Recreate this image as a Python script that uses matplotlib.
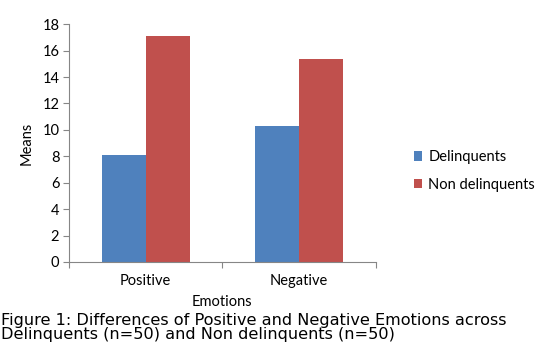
import matplotlib
matplotlib.use("Agg")
import matplotlib.pyplot as plt
import numpy as np

categories = ["Positive", "Negative"]
delinquents = [8.1, 10.3]
non_delinquents = [17.1, 15.4]
series_names = ["Delinquents", "Non delinquents"]
yticks = [0, 2, 4, 6, 8, 10, 12, 14, 16, 18]

blue = "#4F81BD"
red = "#C0504D"
axis_color = "#868686"

plt.rcParams["font.family"] = ["Lato", "DejaVu Sans"]

fig = plt.figure(figsize=(5.39, 3.45), dpi=100)
ax = fig.add_axes([0.128, 0.2406, 0.569, 0.6894])

x = np.arange(len(categories))
w = 0.286
ax.bar(x - w / 2, delinquents, w, color=blue, label=series_names[0])
ax.bar(x + w / 2, non_delinquents, w, color=red, label=series_names[1])

ax.set_xlim(-0.5, len(categories) - 0.5)
ax.set_ylim(0, 18)
ax.set_yticks(yticks)
ax.set_yticklabels([str(v) for v in yticks], fontsize=10.5)
ax.set_xticks(np.arange(len(categories) + 1) - 0.5)
ax.set_xticklabels([])
for xi, name in zip(x, categories):
    ax.text(xi, -1.45, name, ha="center", va="center", fontsize=10.5)

for s in ["top", "right"]:
    ax.spines[s].set_visible(False)
for s in ["left", "bottom"]:
    ax.spines[s].set_color(axis_color)
ax.tick_params(axis="both", color=axis_color, length=4, direction="out")
ax.tick_params(axis="y", pad=3)

ax.set_ylabel("Means", fontsize=10.5, labelpad=6)

ax.legend(loc="upper left", bbox_to_anchor=(1.105, 0.495), frameon=False,
          fontsize=10.5, handlelength=0.6, handleheight=0.6, handletextpad=0.4,
          labelspacing=0.95, borderaxespad=0)

fig.text(0.412, 0.124, "Emotions", ha="center", va="center", fontsize=10.5)
fig.text(0.002, 0.052,
         "Figure 1: Differences of Positive and Negative Emotions across\n"
         "Delinquents (n=50) and Non delinquents (n=50)",
         ha="left", va="center", fontsize=11.6, family="DejaVu Sans",
         linespacing=0.92)

fig.savefig("out.png", dpi=100)
